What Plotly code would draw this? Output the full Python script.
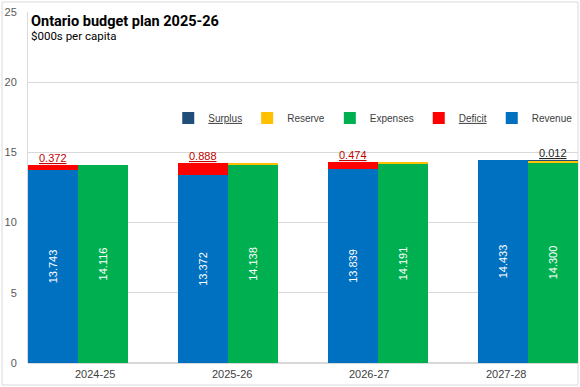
import plotly.graph_objects as go

categories = ["2024-25", "2025-26", "2026-27", "2027-28"]
revenue = [13.743, 13.372, 13.839, 14.433]
deficit = [0.372, 0.888, 0.474, 0.0]
expenses = [14.116, 14.138, 14.191, 14.300]
reserve = [0.0, 0.122, 0.122, 0.121]
surplus = [0.0, 0.0, 0.0, 0.012]
y_ticks = [0, 5, 10, 15, 20, 25]

C_REV = "#0070C0"
C_DEF = "#FF0000"
C_EXP = "#00B050"
C_RES = "#FFC000"
C_SUR = "#1F4E79"

W, H = 580, 387
ML, MR, MT, MB = 28, 2, 12, 24

idx = list(range(len(categories)))
bw = 1 / 3
x_rev = [i - bw / 2 for i in idx]
x_exp = [i + bw / 2 for i in idx]

fig = go.Figure()
fig.add_bar(x=x_rev, y=revenue, width=bw, name="Revenue", marker_color=C_REV,
            marker_line_width=0,
            texttemplate="%{y:.3f}", textposition="inside", textangle=-90,
            insidetextanchor="middle",
            textfont=dict(color="white", size=11, family="Liberation Sans"))
fig.add_bar(x=x_rev, y=deficit, width=bw, name="<u>Deficit</u>", marker_color=C_DEF,
            marker_line_width=0)
fig.add_bar(x=x_exp, y=expenses, width=bw, name="Expenses", marker_color=C_EXP,
            marker_line_width=0,
            texttemplate="%{y:.3f}", textposition="inside", textangle=-90,
            insidetextanchor="middle",
            textfont=dict(color="white", size=11, family="Liberation Sans"))
fig.add_bar(x=x_exp, y=reserve, width=bw, name="Reserve", marker_color=C_RES,
            marker_line_width=0)
fig.add_bar(x=x_exp, y=surplus, width=bw, name="<u>Surplus</u>", marker_color=C_SUR,
            marker_line_width=0)

# deficit / surplus labels
for i in idx:
    if deficit[i] > 0:
        fig.add_annotation(x=x_rev[i], y=revenue[i] + deficit[i], text=f"<u>{deficit[i]:.3f}</u>",
                           showarrow=False, yanchor="bottom", yshift=-1,
                           font=dict(color="#C00000", size=11, family="Liberation Sans"))
    if surplus[i] > 0:
        top = expenses[i] + reserve[i] + surplus[i]
        fig.add_annotation(x=x_exp[i], y=top, text=f"<u>{surplus[i]:.3f}</u>",
                           showarrow=False, yanchor="bottom", yshift=-1,
                           font=dict(color="#262626", size=11, family="Liberation Sans"))

# category labels (Excel places them on a slightly different spacing)
lab_step = 137 / 150  # in group units
lab0 = 16.5 / 150
for i, c in enumerate(categories):
    fig.add_annotation(x=lab0 + i * lab_step, y=0, yref="y", text=c, showarrow=False,
                       yanchor="top", yshift=-3,
                       font=dict(color="#404040", size=11, family="Liberation Sans"))

fig.add_annotation(xref="paper", yref="paper", x=0.002, y=1.003, xanchor="left", yanchor="top",
                   align="left",
                   text="<span style='font-size:14.5px'><b>Ontario budget plan 2025-26</b></span>"
                        "<br><span style='font-size:11.5px'>$000s per capita</span>",
                   showarrow=False,
                   font=dict(size=10.5, color="black", family="Roboto"))

pw = W - ML - MR
ph = H - MT - MB
fig.add_shape(type="rect", xref="paper", yref="paper",
              x0=(2 - ML) / pw, x1=(W - 2 - ML) / pw,
              y0=-(MB - 2) / ph, y1=1 + (MT - 2) / ph,
              line=dict(color="#D9D9D9", width=1), fillcolor="rgba(0,0,0,0)", layer="below")

fig.update_layout(
    width=W, height=H,
    margin=dict(l=ML, r=MR, t=MT, b=MB, autoexpand=False),
    barmode="stack", bargap=0,
    plot_bgcolor="white", paper_bgcolor="white",
    showlegend=True,
    legend=dict(orientation="h", traceorder="reversed", x=0.255, y=0.698,
                xanchor="left", yanchor="middle",
                font=dict(size=10, color="#404040", family="Liberation Sans"),
                itemwidth=30, bgcolor="rgba(0,0,0,0)"),
    xaxis=dict(range=[-1 / 3, len(categories) - 2 / 3], showticklabels=False, showgrid=False,
               zeroline=False, showline=False, ticks="", automargin=False),
    yaxis=dict(range=[0, 25], tickvals=y_ticks, showgrid=True, gridcolor="#D9D9D9",
               zeroline=True, zerolinecolor="#D9D9D9", showline=True, linecolor="#D9D9D9",
               ticks="", tickfont=dict(size=11, color="#595959", family="Liberation Sans"),
               ticklabelstandoff=8, automargin=False),
)

fig.write_html("out.html", config={"displayModeBar": False},
               post_script="document.body.style.margin='0';")
